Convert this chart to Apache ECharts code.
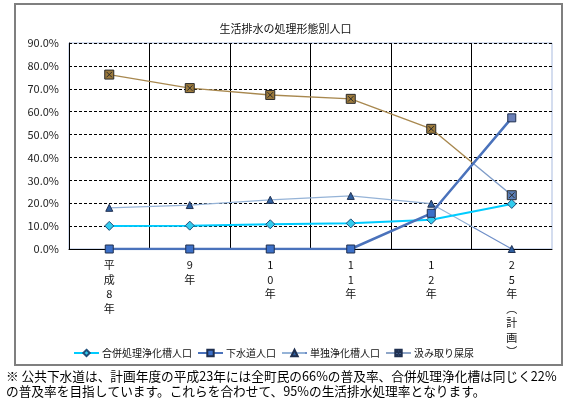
<!DOCTYPE html>
<html>
<head>
<meta charset="utf-8">
<script src="https://cdn.jsdelivr.net/npm/echarts@6/dist/echarts.min.js"></script>
<style>
html,body{margin:0;padding:0;background:#fff;}
#chart{width:571px;height:419px;}
</style>
</head>
<body>
<div id="chart"></div>
<script>
const categories = ['平\n成\n8\n年', '9\n年', '1\n0\n年', '1\n1\n年', '1\n2\n年', '2\n5\n年\n︵\n計\n画\n︶'];
const gappei = [10.1, 10.2, 10.8, 11.2, 12.8, 19.7];
const gesuido = [0, 0, 0, 0, 15.6, 57.3];
const tandoku = [18.0, 19.2, 21.5, 23.2, 19.8, 0];
const kumitori = [76.2, 70.3, 67.3, 65.6, 52.5, 23.5];
const seriesNames = ['合併処理浄化槽人口', '下水道人口', '単独浄化槽人口', '汲み取り屎尿'];
const yTicks = { min: 0, max: 90, interval: 10 };
const titleText = '生活排水の処理形態別人口';
const noteLines = [
  '※ 公共下水道は、計画年度の平成23年には全町民の66%の普及率、合併処理浄化槽は同じく22%',
  'の普及率を目指しています。これらを合わせて、95%の生活排水処理率となります。'
];

const FONT = '"Noto Sans CJK JP", "Noto Sans", sans-serif';
const xSym = 'path://M0,0H10V10H0Z M2,2L8,8 M8,2L2,8';

function split(c1, c2) {
  return { type: 'linear', x: 0, y: 0, x2: 1, y2: 0,
    colorStops: [{ offset: 0, color: c1 }, { offset: 0.9, color: c1 }, { offset: 0.9, color: c2 }, { offset: 1, color: c2 }] };
}

const chart = echarts.init(document.getElementById('chart'));
chart.setOption({
  animation: false,
  textStyle: { fontFamily: FONT },
  title: {
    text: titleText, left: 'center', top: 18,
    textStyle: { fontSize: 11, fontWeight: 'normal', color: '#111', fontFamily: FONT }
  },
  graphic: [
    { type: 'rect', shape: { x: 15, y: 4, width: 547, height: 361 }, style: { fill: 'none', stroke: '#7f7f7f', lineWidth: 2 }, z: -1 },
    { type: 'text', left: 6, top: 370, style: { text: noteLines[0], font: '12.7px ' + FONT, fill: '#000' } },
    { type: 'text', left: 6, top: 385, style: { text: noteLines[1], font: '12.7px ' + FONT, fill: '#000' } }
  ],
  grid: { left: 69, right: 19, top: 43, bottom: 170, show: true, borderColor: '#a9bbdf', borderWidth: 1 },
  legend: {
    left: 68, top: 343, itemGap: 5, itemWidth: 25, itemHeight: 8,
    textStyle: { fontSize: 10, color: '#111', fontFamily: FONT, padding: [0, 0, 0, -2] },
    data: [
      { name: seriesNames[0] },
      { name: seriesNames[1] },
      { name: seriesNames[2] },
      { name: seriesNames[3], itemStyle: { color: '#4f72a8', borderColor: '#1f2f4f' }, lineStyle: { color: '#8fa6c8' } }
    ]
  },
  xAxis: {
    type: 'category', data: categories, boundaryGap: true,
    axisLine: { lineStyle: { color: '#000', width: 1 } },
    axisTick: { show: false },
    axisLabel: { interval: 0, fontSize: 11, color: '#111', lineHeight: 14.5, margin: 9, fontFamily: FONT },
    splitLine: { show: true, showMinLine: false, showMaxLine: false, interval: 0, lineStyle: { color: '#000', width: 1 } }
  },
  yAxis: {
    type: 'value', min: yTicks.min, max: yTicks.max, interval: yTicks.interval,
    axisLine: { show: true, lineStyle: { color: '#000' } },
    axisTick: { show: false },
    axisLabel: { fontSize: 11, color: '#222', margin: 10, formatter: v => v.toFixed(1) + '%' },
    splitLine: { lineStyle: { color: '#000', type: [3, 2], width: 1 } }
  },
  series: [
    {
      name: seriesNames[0], type: 'line', data: gappei, z: 4,
      symbol: 'diamond', symbolSize: 9,
      lineStyle: { color: '#00ccff', width: 2 },
      itemStyle: { color: '#33ccee', borderColor: '#1f4e79', borderWidth: 1 }
    },
    {
      name: seriesNames[1], type: 'line', z: 5,
      data: gesuido.map((v, i) => i === gesuido.length - 1 ? { value: v, itemStyle: { color: '#6b80b8' } } : v),
      symbol: 'rect', symbolSize: 8,
      lineStyle: { color: '#4a72bb', width: 2.5 },
      itemStyle: { color: '#3c70c8', borderColor: '#1f2f4f', borderWidth: 1 }
    },
    {
      name: seriesNames[2], type: 'line', data: tandoku, z: 3,
      symbol: 'triangle', symbolSize: 7,
      lineStyle: { color: split('#95b3d7', '#6f8fc8'), width: 1.2 },
      itemStyle: { color: '#2e5fa0', borderColor: '#1f2f4f', borderWidth: 1 }
    },
    {
      name: seriesNames[3], type: 'line', z: 3,
      data: kumitori.map((v, i) => i === kumitori.length - 1 ? { value: v, itemStyle: { color: '#5a7fb8' } } : v),
      symbol: xSym, symbolSize: 9,
      lineStyle: { color: split('#a8884f', '#7f9cc8'), width: 1.4 },
      itemStyle: { color: '#9c7a3c', borderColor: '#2a2a2a', borderWidth: 1 }
    }
  ]
});
</script>
</body>
</html>
